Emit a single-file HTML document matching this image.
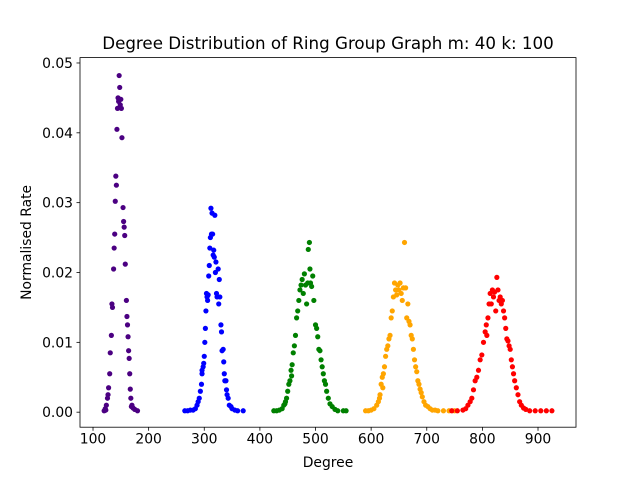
<!DOCTYPE html>
<html><head><meta charset="utf-8"><style>
body{margin:0;background:#fff;font-family:"DejaVu Sans","Liberation Sans",sans-serif}
text{font-family:"DejaVu Sans","Liberation Sans",sans-serif}
</style></head><body>
<svg id="chart" width="640" height="480" xmlns="http://www.w3.org/2000/svg"></svg>
<script>
const xTicks=[100,200,300,400,500,600,700,800,900];
const yTicks=[0,0.01,0.02,0.03,0.04,0.05];
const yTickLabels=["0.00","0.01","0.02","0.03","0.04","0.05"];
const seriesColors=["#4b0082","#0000ff","#008000","#ffa500","#ff0000"];
const purplePts=[[120,0.0002],[122,0.0005],[124,0.001],[126,0.002],[128,0.0035],[130,0.0055],[131,0.0085],[133,0.011],[134,0.0155],[135,0.015],[137,0.0205],[138,0.0235],[139,0.0255],[140,0.0302],[141,0.0338],[142,0.0325],[143,0.0405],[144,0.0435],[145,0.045],[146,0.0445],[147,0.0482],[148,0.0465],[149,0.044],[150,0.0448],[151,0.0435],[152,0.0393],[154,0.0293],[155,0.0273],[156,0.0265],[157,0.0253],[158,0.0212],[160,0.016],[161,0.0137],[162,0.0125],[163,0.0108],[164,0.0088],[165,0.0077],[166,0.0055],[167,0.0033],[168,0.002],[170,0.001],[172,0.0006],[175,0.0004],[180,0.0002],[123,0.0003],[127,0.0025],[169,0.0008]];
const bluePts=[[265,0.0002],[270,0.0002],[275,0.0003],[280,0.0003],[284,0.0005],[287,0.001],[289,0.0015],[291,0.002],[293,0.003],[295,0.004],[296,0.0055],[298,0.0065],[300,0.008],[301,0.01],[302,0.012],[303,0.0145],[304,0.017],[305,0.0165],[306,0.016],[307,0.0168],[308,0.0195],[309,0.021],[310,0.0235],[311,0.025],[312,0.0292],[313,0.0255],[314,0.0285],[315,0.0255],[316,0.0225],[317,0.0232],[318,0.0222],[319,0.0282],[320,0.02],[321,0.0215],[322,0.017],[323,0.0165],[325,0.0205],[326,0.0155],[327,0.019],[328,0.0165],[330,0.0125],[331,0.0115],[332,0.0088],[334,0.009],[335,0.0072],[336,0.0055],[337,0.0045],[339,0.0045],[340,0.0032],[341,0.0025],[343,0.002],[345,0.001],[348,0.0008],[350,0.0005],[355,0.0003],[360,0.0002],[370,0.0002],[296,0.006],[299,0.007]];
const greenPts=[[425,0.0002],[430,0.0002],[435,0.0003],[440,0.0005],[443,0.001],[446,0.0015],[448,0.002],[450,0.003],[452,0.004],[454,0.0045],[456,0.006],[458,0.0068],[460,0.0085],[462,0.0095],[464,0.011],[466,0.0135],[468,0.0145],[470,0.016],[472,0.0175],[474,0.0182],[476,0.019],[478,0.017],[480,0.0198],[482,0.0182],[484,0.0155],[486,0.0185],[487,0.0233],[489,0.0243],[490,0.0205],[491,0.0185],[493,0.018],[495,0.0195],[497,0.016],[500,0.0125],[502,0.012],[504,0.0108],[506,0.009],[508,0.0088],[510,0.0075],[512,0.0065],[514,0.0055],[516,0.0045],[518,0.004],[520,0.003],[523,0.002],[526,0.0012],[530,0.0008],[535,0.0004],[540,0.0002],[550,0.0002],[555,0.0002],[445,0.0012],[457,0.0052]];
const orangePts=[[590,0.0002],[595,0.0002],[600,0.0003],[605,0.0005],[610,0.001],[613,0.0015],[616,0.0025],[618,0.004],[620,0.005],[622,0.0055],[624,0.0065],[626,0.008],[628,0.009],[630,0.0095],[632,0.0105],[634,0.011],[636,0.0135],[638,0.0145],[640,0.0165],[642,0.0185],[644,0.0175],[646,0.0168],[648,0.0182],[650,0.0175],[652,0.0185],[654,0.017],[656,0.016],[658,0.0178],[660,0.0243],[662,0.0178],[664,0.0135],[666,0.0155],[668,0.013],[670,0.0125],[672,0.011],[674,0.0105],[676,0.009],[678,0.0075],[680,0.0065],[682,0.0058],[684,0.0045],[686,0.004],[688,0.0033],[690,0.0028],[692,0.0022],[695,0.0015],[698,0.001],[702,0.0008],[706,0.0005],[710,0.0003],[715,0.0003],[720,0.0002],[730,0.0002],[740,0.0002],[750,0.0002],[615,0.002],[621,0.0035]];
const redPts=[[745,0.0002],[755,0.0002],[765,0.0003],[770,0.0005],[774,0.001],[778,0.0015],[781,0.002],[784,0.0032],[787,0.0045],[790,0.005],[793,0.006],[796,0.0075],[799,0.0082],[802,0.01],[805,0.0115],[807,0.0125],[810,0.0135],[812,0.0155],[814,0.017],[816,0.0155],[818,0.0175],[820,0.0165],[822,0.0172],[824,0.0145],[826,0.0193],[828,0.0175],[830,0.016],[832,0.0165],[834,0.0155],[836,0.016],[838,0.0145],[840,0.0135],[842,0.012],[844,0.0105],[846,0.0102],[848,0.0095],[850,0.009],[852,0.0075],[854,0.0065],[856,0.0055],[858,0.0045],[861,0.0035],[864,0.0025],[867,0.0015],[870,0.001],[874,0.0006],[878,0.0004],[885,0.0002],[895,0.0002],[905,0.0002],[915,0.0002],[925,0.0002],[808,0.011]];
const seriesNames=["m-group-1","m-group-2","m-group-3","m-group-4","m-group-5"];

const svg=document.getElementById('chart');
const NS="http://www.w3.org/2000/svg";
const L=80,R=576,T=57.6,B=427.2;
const xMin=76.6,xMax=968.3,yMin=-0.00215,yMax=0.05077;
const sx=v=>L+(v-xMin)/(xMax-xMin)*(R-L);
const sy=v=>B-(v-yMin)/(yMax-yMin)*(B-T);
function mk(tag,attrs,parent){const e=document.createElementNS(NS,tag);for(const k in attrs)e.setAttribute(k,attrs[k]);(parent||svg).appendChild(e);return e;}

const plot=mk('g',{});


[purplePts,bluePts,greenPts,orangePts,redPts].forEach((pts,i)=>{
  const g=mk('g',{fill:seriesColors[i]},plot);
  
  
  pts.forEach(p=>{
    const c=mk('circle',{cx:sx(p[0]),cy:sy(p[1]),r:2.6},g);
    
    
  });
});
const frame=mk('rect',{x:L,y:T,width:R-L,height:B-T,fill:'none',stroke:'#000','stroke-width':0.8});



const xa=mk('g',{});


xTicks.forEach(t=>{
  const x=sx(t);
  mk('line',{x1:x,x2:x,y1:B,y2:B+3.5,stroke:'#000','stroke-width':0.8},xa);
  const tx=mk('text',{x:x,y:B+16.5,'text-anchor':'middle','font-size':13.9},xa);
  tx.textContent=t;
  
  
});
const ya=mk('g',{});


yTicks.forEach((t,i)=>{
  const y=sy(t);
  mk('line',{x1:L-3.5,x2:L,y1:y,y2:y,stroke:'#000','stroke-width':0.8},ya);
  const tx=mk('text',{x:L-7,y:y+5,'text-anchor':'end','font-size':13.9},ya);
  tx.textContent=yTickLabels[i];
  
  
});
const xt=mk('text',{x:(L+R)/2,y:467,'text-anchor':'middle','font-size':13.9});
xt.textContent='Degree';


const yt=mk('text',{x:0,y:0,'text-anchor':'middle','font-size':13.9,transform:`translate(31,${(T+B)/2}) rotate(-90)`});
yt.textContent='Normalised Rate';


const ti=mk('text',{x:(L+R)/2,y:49,'text-anchor':'middle','font-size':16.7});
ti.textContent='Degree Distribution of Ring Group Graph m: 40 k: 100';


</script>
</body></html>
